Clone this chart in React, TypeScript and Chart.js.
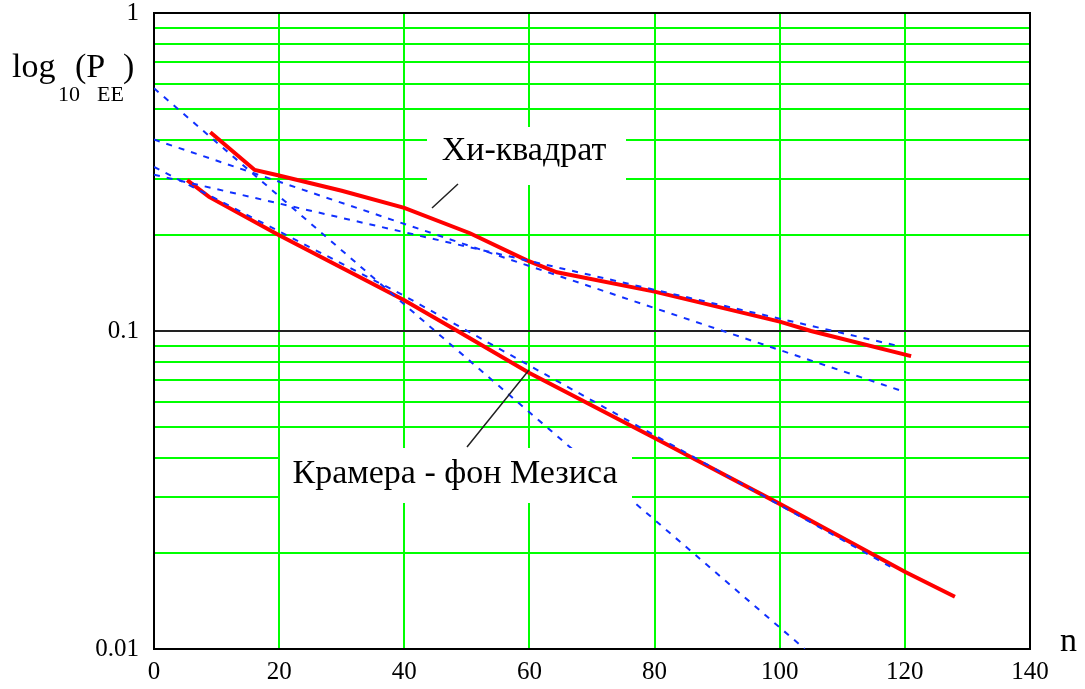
import React, { useEffect, useRef } from 'react';
import { Chart, registerables } from 'chart.js';

Chart.register(...registerables);

// Red curve: Хи-квадрат
const CHI_N = [9, 16.1, 19.8, 30, 40, 50.5, 59.5, 64.4, 80, 100, 105, 121];
const CHI_P = [0.422, 0.321, 0.309, 0.276, 0.244, 0.203, 0.167, 0.153, 0.133, 0.107, 0.1, 0.0834];

// Red curve: Крамера - фон Мезиса
const CVM_N = [5.3, 8.8, 20, 40, 48.5, 60, 80, 100, 120, 128];
const CVM_P = [0.298, 0.264, 0.2, 0.125, 0.1, 0.0738, 0.0461, 0.0286, 0.0175, 0.0146];

// Blue dashed approximations
const A_N = [0, 50, 104];
const A_P = [0.58, 0.082, 0.01];
const B_N = [0, 60, 120];
const B_P = [0.4, 0.16, 0.0643];
const C_N = [0, 60, 119];
const C_P = [0.31, 0.166, 0.0897];
const D_N = [0, 40, 118];
const D_P = [0.328, 0.129, 0.018];

const X_TICKS = [0, 20, 40, 60, 80, 100, 120, 140];
const Y_GRID = [0.01, 0.02, 0.03, 0.04, 0.05, 0.06, 0.07, 0.08, 0.09, 0.1, 0.2, 0.3, 0.4, 0.5, 0.6, 0.7, 0.8, 0.9, 1];
const Y_LABEL_VALUES = [0.01, 0.1, 1];
const Y_LABELS = ['0.01', '0.1', '1'];

const LABEL_CHI = 'Хи-квадрат';
const LABEL_CVM = 'Крамера - фон Мезиса';
const X_TITLE = 'n';

const SERIF = '"Liberation Serif", "Times New Roman", serif';

const pts = (ns: number[], ps: number[]) => ns.map((n, i) => ({ x: n, y: ps[i] }));

const redDs = (label: string, ns: number[], ps: number[]) => ({
  label,
  data: pts(ns, ps),
  borderColor: '#ff0000',
  borderWidth: 4,
  pointRadius: 0,
  showLine: true,
  fill: false,
  tension: 0,
  order: 1,
});

const blueDs = (label: string, ns: number[], ps: number[]) => ({
  label,
  data: pts(ns, ps),
  borderColor: '#1030ff',
  borderWidth: 2,
  borderDash: [6, 7],
  pointRadius: 0,
  showLine: true,
  fill: false,
  tension: 0,
  order: 0,
});

const decor = {
  id: 'decor',
  beforeDatasetsDraw(chart: any) {
    const { ctx, chartArea: a } = chart;
    ctx.save();
    ctx.strokeStyle = '#000';
    ctx.lineWidth = 2;
    ctx.strokeRect(a.left, a.top, a.right - a.left, a.bottom - a.top);
    ctx.restore();
  },
  afterDatasetsDraw(chart: any) {
    const { ctx } = chart;
    ctx.save();
    // white label boxes
    ctx.fillStyle = '#ffffff';
    ctx.fillRect(427, 127, 199, 58);
    ctx.fillRect(280, 448, 352, 55);
    // leader lines
    ctx.strokeStyle = '#222';
    ctx.lineWidth = 1.5;
    ctx.beginPath();
    ctx.moveTo(432, 208);
    ctx.lineTo(458, 184);
    ctx.moveTo(467, 447);
    ctx.lineTo(529, 370);
    ctx.stroke();
    // label texts
    ctx.fillStyle = '#000';
    ctx.textBaseline = 'alphabetic';
    ctx.textAlign = 'center';
    ctx.font = `34px ${SERIF}`;
    ctx.fillText(LABEL_CHI, 524, 160);
    ctx.fillText(LABEL_CVM, 455, 483);
    // axis titles
    ctx.textAlign = 'left';
    ctx.fillText(X_TITLE, 1060, 651);
    ctx.fillText('log', 12, 77);
    ctx.fillText('(P', 75, 77);
    ctx.fillText(')', 123, 77);
    ctx.font = `22px ${SERIF}`;
    ctx.fillText('10', 58, 101);
    ctx.fillText('EE', 97, 101);
    ctx.restore();
  },
};

export default function App() {
  const ref = useRef<HTMLCanvasElement | null>(null);
  useEffect(() => {
    if (!ref.current) return;
    const chart = new Chart(ref.current, {
      type: 'scatter',
      data: {
        datasets: [
          blueDs('A', A_N, A_P),
          blueDs('B', B_N, B_P),
          blueDs('C', C_N, C_P),
          blueDs('D', D_N, D_P),
          redDs(LABEL_CHI, CHI_N, CHI_P),
          redDs(LABEL_CVM, CVM_N, CVM_P),
        ],
      },
      options: {
        responsive: false,
        animation: false,
        devicePixelRatio: 1,
        layout: { padding: { left: 0, top: 13, right: 55, bottom: 0 } },
        plugins: { legend: { display: false }, tooltip: { enabled: false } },
        scales: {
          x: {
            type: 'linear',
            min: 0,
            max: 140,
            afterBuildTicks: (scale: any) => {
              scale.ticks = X_TICKS.map((v) => ({ value: v }));
            },
            afterFit: (scale: any) => {
              scale.height = 40;
              scale.paddingLeft = 0;
              scale.paddingRight = 0;
            },
            ticks: {
              autoSkip: false,
              maxRotation: 0,
              padding: 8,
              color: '#000',
              font: { family: SERIF, size: 25 },
              callback: (v: any) => String(v),
            },
            grid: {
              drawTicks: false,
              lineWidth: 2,
              color: (c: any) => (c.tick && (c.tick.value === 0 || c.tick.value === 140) ? '#000' : '#00ff00'),
            },
            border: { display: true, color: '#000', width: 2 },
          },
          y: {
            type: 'logarithmic',
            min: 0.01,
            max: 1,
            afterBuildTicks: (scale: any) => {
              scale.ticks = Y_GRID.map((v) => ({ value: v }));
            },
            afterFit: (scale: any) => {
              scale.width = 154;
              scale.paddingTop = 0;
              scale.paddingBottom = 0;
            },
            ticks: {
              autoSkip: false,
              padding: 15,
              color: '#000',
              font: { family: SERIF, size: 25 },
              callback: (v: any) => {
                const i = Y_LABEL_VALUES.findIndex((t) => Math.abs(t - Number(v)) < 1e-9);
                return i >= 0 ? Y_LABELS[i] : '';
              },
            },
            grid: {
              drawTicks: false,
              lineWidth: 2,
              color: (c: any) => {
                const v = c.tick ? c.tick.value : 0;
                return Math.abs(v - 0.1) < 1e-9 || Math.abs(v - 0.01) < 1e-9 || Math.abs(v - 1) < 1e-9 ? '#222' : '#00ff00';
              },
            },
            border: { display: true, color: '#000', width: 2 },
          },
        },
      },
      plugins: [decor],
    } as any);
    return () => chart.destroy();
  }, []);
  return (
    <div style={{ position: 'fixed', left: 0, top: 0, width: '1085px', height: '689px', background: '#fff' }}>
      <canvas ref={ref} width={1085} height={689} style={{ display: 'block' }} />
    </div>
  );
}
